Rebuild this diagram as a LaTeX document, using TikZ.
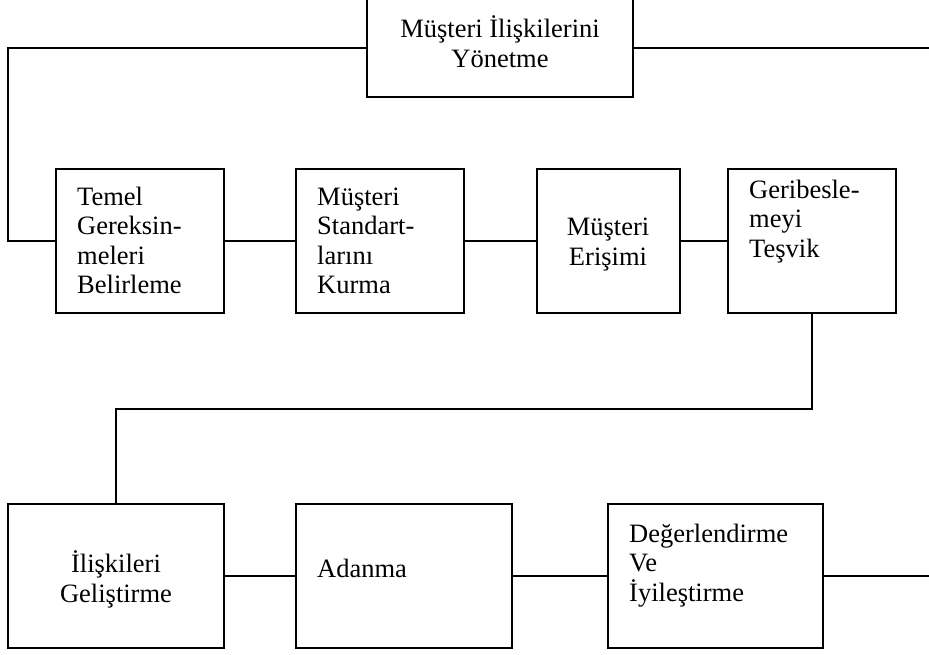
\documentclass[tikz,border=0pt]{standalone}
\usepackage{fontspec}
\setmainfont{Liberation Serif}
\begin{document}
\begin{tikzpicture}[x=1pt,y=-1pt,
  box/.style={draw=black, line width=2pt, rectangle, inner sep=0pt},
  conn/.style={draw=black, line width=2pt},
  lbl/.style={inner sep=0pt, font=\fontsize{26.5}{29.5}\selectfont}]
\useasboundingbox (0,0) rectangle (929,654);
% boxes
\node[box, minimum width=266pt, minimum height=99pt] (top) at (500,47.5) {};
\node[box, minimum width=168pt, minimum height=144pt] (b1) at (140,241) {};
\node[box, minimum width=168pt, minimum height=144pt] (b2) at (380,241) {};
\node[box, minimum width=143pt, minimum height=144pt] (b3) at (608.5,241) {};
\node[box, minimum width=168pt, minimum height=144pt] (b4) at (812,241) {};
\node[box, minimum width=216pt, minimum height=144pt] (b5) at (116,576) {};
\node[box, minimum width=216pt, minimum height=144pt] (b6) at (404,576) {};
\node[box, minimum width=215pt, minimum height=144pt] (b7) at (715.5,576) {};
% texts (anchor base = baseline of last line)
\node[lbl, anchor=base, align=center] (ttop) at (500,67) {Müşteri İlişkilerini\\Yönetme};
\node[lbl, anchor=base west, align=left] (t1) at (77,293.5) {Temel\\Gereksin-\\meleri\\Belirleme};
\node[lbl, anchor=base west, align=left] (t2) at (317,293.5) {Müşteri\\Standart-\\larını\\Kurma};
\node[lbl, anchor=base, align=center] (t3) at (608,265) {Müşteri\\Erişimi};
\node[lbl, anchor=base west, align=left] (t4) at (749,257) {Geribesle-\\meyi\\Teşvik};
\node[lbl, anchor=base, align=center] (t5) at (116,602) {İlişkileri\\Geliştirme};
\node[lbl, anchor=base west, align=left] (t6) at (317,577) {Adanma};
\node[lbl, anchor=base west, align=left] (t7) at (629,601) {Değerlendirme\\Ve\\İyileştirme};
% free ends
\coordinate (topR) at (929,47.5);
\coordinate (botR) at (929,576);
\coordinate (leftX) at (8,47.5);
% connectors
\draw[conn] (top.west) -- (leftX) |- (b1.west);
\draw[conn] (top.east) -- (topR);
\draw[conn] (b1) -- (b2);
\draw[conn] (b2) -- (b3);
\draw[conn] (b3) -- (b4);
\draw[conn] (b4.south) -- ++(0,95) -| (b5.north);
\draw[conn] (b5) -- (b6);
\draw[conn] (b6) -- (b7);
\draw[conn] (b7.east) -- (botR);
\end{tikzpicture}
\end{document}
